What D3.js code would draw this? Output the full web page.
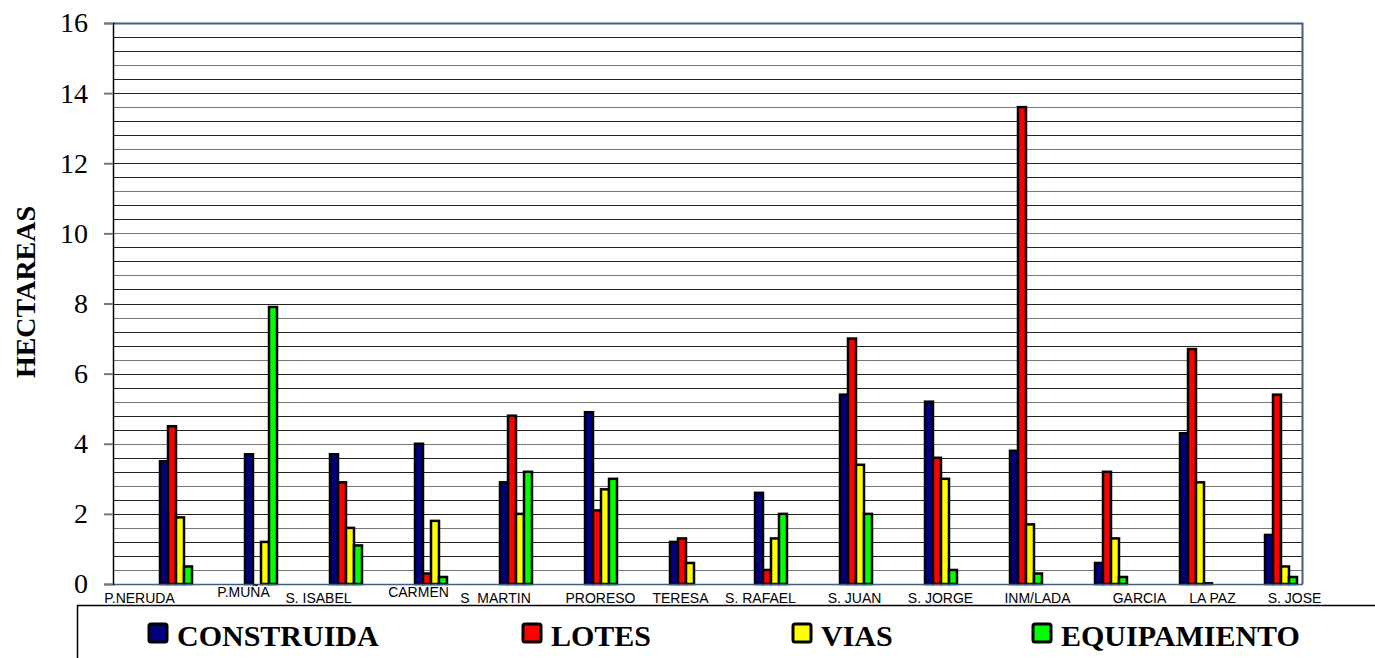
<html>
<head>
    <meta charset="utf-8">
    <title>Hectareas por barrio</title>
    <script src="https://d3js.org/d3.v7.min.js" charset="utf-8"></script>
    <style>
        body { margin: 0; background: #fff; }
    </style>
</head>
<body>
<script>

    const width = 1375;
    const height = 658;

    // data
    const barrios = ["P.NERUDA", "P.MUÑA", "S. ISABEL", "CARMEN", "S  MARTIN", "PRORESO", "TERESA",
        "S. RAFAEL", "S. JUAN", "S. JORGE", "INM/LADA", "GARCIA", "LA PAZ", "S. JOSE"];
    const series = ["CONSTRUIDA", "LOTES", "VIAS", "EQUIPAMIENTO"];
    const construida = [3.5, 3.7, 3.7, 4.0, 2.9, 4.9, 1.2, 2.6, 5.4, 5.2, 3.8, 0.6, 4.3, 1.4];
    const lotes = [4.5, 0, 2.9, 0.3, 4.8, 2.1, 1.3, 0.4, 7.0, 3.6, 13.6, 3.2, 6.7, 5.4];
    const vias = [1.9, 1.2, 1.6, 1.8, 2.0, 2.7, 0.6, 1.3, 3.4, 3.0, 1.7, 1.3, 2.9, 0.5];
    const equipamiento = [0.5, 7.9, 1.1, 0.2, 3.2, 3.0, 0, 2.0, 2.0, 0.4, 0.3, 0.2, 0.02, 0.2];
    const yTicks = [0, 2, 4, 6, 8, 10, 12, 14, 16];

    const colors = ["#000080", "#ff0000", "#ffff00", "#00ff00"];
    const values = [construida, lotes, vias, equipamiento];

    // labels were placed by hand in the original, shift from band centre
    const labelShift = [-16, 3, -7, 8, 0, 20, 15, 10, 19, 20, 32, 49, 37, 34];
    const labelLift = [0, 6, 0, 6, 0, 0, 0, 0, 0, 0, 0, 0, 0, 0];
    const legendX = [148, 522, 792, 1032];

    const plot = {left: 113, right: 1303, top: 23, bottom: 584};

    const svg = d3.select("body").append("svg")
        .attr("width", width)
        .attr("height", height);

    const x0 = d3.scaleBand()
        .domain(barrios)
        .range([plot.left, plot.right]);

    const x1 = d3.scaleBand()
        .domain(series)
        .range([47, 79]);

    const y = d3.scaleLinear()
        .domain([0, 16])
        .range([plot.bottom, plot.top]);

    // grid
    svg.append("g")
        .selectAll("line")
        .data(d3.range(1, 40))
        .join("line")
        .attr("x1", plot.left)
        .attr("x2", plot.right)
        .attr("y1", d => Math.round(y(d * 0.4)) + 0.5)
        .attr("y2", d => Math.round(y(d * 0.4)) + 0.5)
        .attr("stroke", (d, i) => i % 3 == 0 ? "#777" : "#222")
        .attr("stroke-width", 1);

    // plot frame
    svg.append("path")
        .attr("d", `M${plot.left},${plot.top + 0.5}H${plot.right - 0.5}V${plot.bottom}`)
        .attr("fill", "none")
        .attr("stroke", "#3f5f80")
        .attr("stroke-width", 2);

    // bars
    const rows = barrios.map((b, i) => ({barrio: b, vals: series.map((s, j) => ({s: s, v: values[j][i], c: colors[j]}))}));

    const groups = svg.append("g")
        .selectAll("g")
        .data(rows)
        .join("g")
        .attr("transform", d => `translate(${x0(d.barrio)},0)`);

    groups.selectAll("rect")
        .data(d => d.vals.filter(e => e.v > 0))
        .join("rect")
        .attr("x", d => x1(d.s))
        .attr("y", d => y(d.v))
        .attr("width", x1.bandwidth())
        .attr("height", d => plot.bottom - y(d.v))
        .attr("fill", d => d.c)
        .attr("stroke", "#000")
        .attr("stroke-width", 2.5);

    // x axis line
    svg.append("line")
        .attr("x1", plot.left)
        .attr("x2", plot.right)
        .attr("y1", plot.bottom + 0.5)
        .attr("y2", plot.bottom + 0.5)
        .attr("stroke", "#3f5f80")
        .attr("stroke-width", 1.5);

    // y axis
    const yAxis = d3.axisLeft(y)
        .tickValues(yTicks)
        .tickSize(9)
        .tickPadding(16)
        .tickFormat(d3.format("d"));

    const ya = svg.append("g")
        .attr("transform", `translate(${plot.left},0)`)
        .call(yAxis);
    ya.select(".domain").attr("stroke", "#000").attr("stroke-width", 1.5);
    ya.selectAll(".tick line").attr("stroke", "#777").attr("stroke-width", 2);
    ya.selectAll("text")
        .attr("font-family", "Liberation Serif, Times New Roman, serif")
        .attr("font-size", 28)
        .attr("fill", "#000");

    // category labels
    svg.append("g")
        .selectAll("text")
        .data(barrios)
        .join("text")
        .attr("x", (d, i) => x0(d) + x0.bandwidth() / 2 + labelShift[i])
        .attr("y", (d, i) => 603 - labelLift[i])
        .attr("text-anchor", "middle")
        .attr("font-family", "Liberation Sans, Arial, sans-serif")
        .attr("font-size", 14)
        .attr("fill", "#000")
        .style("white-space", "pre")
        .text(d => d);

    // y title
    svg.append("text")
        .attr("transform", "translate(35,292) rotate(-90)")
        .attr("text-anchor", "middle")
        .attr("font-family", "Liberation Serif, Times New Roman, serif")
        .attr("font-weight", "bold")
        .attr("font-size", 28)
        .text("HECTAREAS");

    // legend box
    svg.append("path")
        .attr("d", `M77.5,${height}V605.5H${width}`)
        .attr("fill", "none")
        .attr("stroke", "#000")
        .attr("stroke-width", 1.5);

    const leg = svg.append("g")
        .selectAll("g")
        .data(series)
        .join("g")
        .attr("transform", (d, i) => `translate(${legendX[i]},0)`);

    leg.append("rect")
        .attr("x", 1)
        .attr("y", 624)
        .attr("width", 18)
        .attr("height", 18)
        .attr("rx", 2)
        .attr("fill", (d, i) => colors[i])
        .attr("stroke", "#000")
        .attr("stroke-width", 3);

    leg.append("text")
        .attr("x", 29)
        .attr("y", 646)
        .attr("font-family", "Liberation Serif, Times New Roman, serif")
        .attr("font-weight", "bold")
        .attr("font-size", 30)
        .text(d => d);

</script>
</body>
</html>
